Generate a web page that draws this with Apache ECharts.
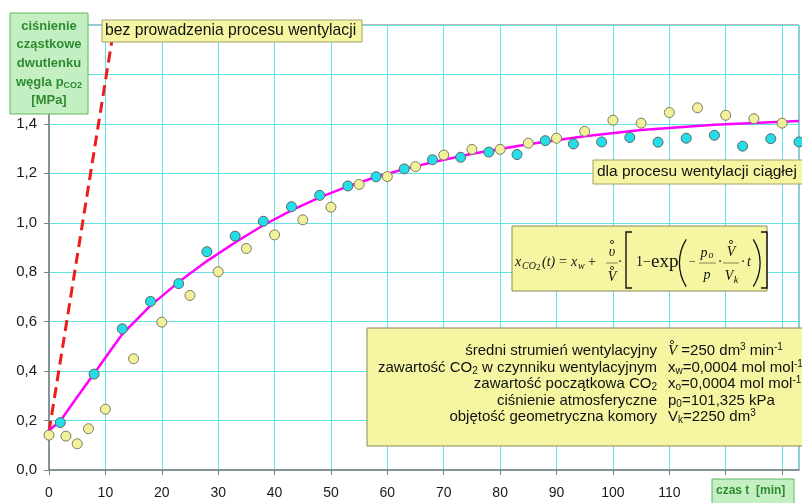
<!DOCTYPE html>
<html>
<head>
<meta charset="utf-8">
<script src="https://cdn.jsdelivr.net/npm/echarts@6/dist/echarts.min.js"></script>
<style>
    html, body { margin: 0; padding: 0; background: #fff; }
    #wykres { width: 802px; height: 503px; }
</style>
</head>
<body>
<div id="wykres"></div>
<script>
(function () {
    "use strict";

    // punkty turkusowe (pomiar przy wentylacji ciaglej)
    var czasCiagly = [2, 8, 13, 18, 23, 28, 33, 38, 43, 48, 53, 58, 63, 68, 73, 78, 83, 88, 93, 98, 103, 108, 113, 118, 123, 128, 133];
    var pCiagly = [0.192, 0.388, 0.571, 0.682, 0.754, 0.883, 0.946, 1.006, 1.065, 1.111, 1.149, 1.186, 1.218, 1.255, 1.265,
        1.286, 1.276, 1.332, 1.319, 1.327, 1.345, 1.326, 1.342, 1.354, 1.310, 1.340, 1.327];

    // punkty zolte
    var czasZolte = [0, 3, 5, 7, 10, 15, 20, 25, 30, 35, 40, 45, 50, 55, 60, 65, 70, 75, 80, 85, 90, 95, 100, 105, 110, 115, 120, 125, 130];
    var pZolte = [0.141, 0.137, 0.106, 0.167, 0.246, 0.450, 0.598, 0.706, 0.802, 0.896, 0.951, 1.012, 1.063, 1.155, 1.187,
        1.227, 1.274, 1.297, 1.297, 1.322, 1.342, 1.370, 1.415, 1.403, 1.446, 1.465, 1.435, 1.421, 1.403];

    // krzywa modelu
    var czasModel = [0, 2, 5, 8, 13, 18, 23, 28, 33, 38, 43, 48, 53, 58, 63, 68, 75, 85, 95, 105, 118, 133];
    var pModel = [0.16, 0.198, 0.295, 0.39, 0.55, 0.665, 0.76, 0.845, 0.92, 0.99, 1.05, 1.103, 1.147, 1.185, 1.217,
        1.245, 1.279, 1.318, 1.35, 1.375, 1.397, 1.412];

    // linia bez wentylacji
    var czasBez = [0, 11.6];
    var pBez = [0.155, 1.8];

    function pary(xs, ys) {
        return xs.map(function (x, i) { return [x, ys[i]]; });
    }

    var sans = '"Liberation Sans", Arial, sans-serif';
    var serif = '"Liberation Serif", "DejaVu Serif", serif';
    var siatka = '#62e2e2';
    var zolty = '#f6f6a2';
    var zielony = '#c3efc3';

    function tekst(x, y, t, font, extra) {
        var st = { x: x, y: y, text: t, font: font, fill: '#111', verticalAlign: 'middle' };
        if (extra) { for (var k in extra) st[k] = extra[k]; }
        return { type: 'text', z: 120, style: st };
    }
    function kolko(x, y) {
        return { type: 'circle', z: 120, shape: { cx: x, cy: y, r: 1.6 }, style: { fill: 'none', stroke: '#111', lineWidth: 0.8 } };
    }
    function linia(pts, w) {
        return { type: 'polyline', z: 120, shape: { points: pts }, style: { stroke: '#111', lineWidth: w || 1, fill: null } };
    }
    function luk(cx, cy, r, a0, a1) {
        return { type: 'arc', z: 120, shape: { cx: cx, cy: cy, r: r, startAngle: a0, endAngle: a1 }, style: { stroke: '#111', lineWidth: 1.3, fill: null } };
    }

    var it = 'italic 14px ' + serif;
    var itS = 'italic 10px ' + serif;
    var yM = 262;

    var wzor = [
        { type: 'rect', z: 110, shape: { x: 512, y: 226, width: 255, height: 65 }, style: { fill: zolty, stroke: '#8a8a5a', lineWidth: 1 } },
        tekst(515, yM, 'x', it),
        tekst(522, yM + 4, 'CO', itS),
        tekst(536, yM + 6, '2', '9px ' + serif),
        tekst(542, yM, '(t)', it),
        tekst(559, yM, '=', '14px ' + serif),
        tekst(571, yM, 'x', it),
        tekst(578, yM + 4, 'w', itS),
        tekst(588, yM, '+', '14px ' + serif),
        kolko(612, yM - 20),
        tekst(612, yM - 10, 'υ', it, { align: 'center' }),
        linia([[606, yM + 1], [618, yM + 1]], 0.5),
        kolko(612, yM + 6),
        tekst(612, yM + 15, 'V', it, { align: 'center' }),
        tekst(620, yM, '·', '14px ' + serif, { align: 'center' }),
        linia([[632, 232], [626, 232], [626, 288], [632, 288]], 1.4),
        tekst(636, yM, '1−', '14px ' + serif),
        tekst(651, yM, 'exp', '19px ' + serif),
        luk(724, yM + 1, 44.6, Math.PI - 0.56, Math.PI + 0.56),
        tekst(689, yM, '−', '12px ' + serif),
        tekst(704, yM - 9, 'p', it, { align: 'center' }),
        tekst(711, yM - 7, 'o', itS, { align: 'center' }),
        linia([[699, yM + 1], [716, yM + 1]], 0.5),
        tekst(707, yM + 13, 'p', it, { align: 'center' }),
        tekst(720, yM, '·', '14px ' + serif, { align: 'center' }),
        kolko(731, yM - 20),
        tekst(731, yM - 10, 'V', it, { align: 'center' }),
        linia([[723, yM + 1], [739, yM + 1]], 0.5),
        tekst(729, yM + 14, 'V', it, { align: 'center' }),
        tekst(736, yM + 18, 'k', itS, { align: 'center' }),
        tekst(743, yM, '·', '14px ' + serif, { align: 'center' }),
        tekst(747, yM, 't', it),
        luk(715.5, yM + 1, 44.6, -0.56, 0.56),
        linia([[761, 232], [767, 232], [767, 288], [761, 288]], 1.4)
    ];

    var bogaty = {
        s: { fontSize: 10, fontFamily: sans, verticalAlign: 'bottom', lineHeight: 17, fill: '#111' },
        p: { fontSize: 10, fontFamily: sans, verticalAlign: 'top', lineHeight: 17, fill: '#111' },
        v: { fontSize: 15, fontFamily: serif, fontStyle: 'italic', lineHeight: 17, fill: '#111' }
    };
    var fInfo = '15px ' + sans;
    var wiersze = [351, 367.5, 384, 400.5, 417];
    var etykiety = [
        'średni strumień wentylacyjny',
        'zawartość CO{s|2} w czynniku wentylacyjnym',
        'zawartość początkowa CO{s|2}',
        'ciśnienie atmosferyczne',
        'objętość geometryczna komory'
    ];
    var wartosci = [
        '{v|V} =250 dm{p|3} min{p|-1}',
        'x{s|w}=0,0004 mol mol{p|-1}',
        'x{s|o}=0,0004 mol mol{p|-1}',
        'p{s|0}=101,325 kPa',
        'V{s|k}=2250 dm{p|3}'
    ];
    var info = [
        { type: 'rect', z: 110, shape: { x: 367, y: 328, width: 450, height: 118 }, style: { fill: zolty, stroke: '#8a8a5a', lineWidth: 1 } },
        kolko(672, 342)
    ];
    etykiety.forEach(function (t, i) {
        info.push(tekst(657, wiersze[i], t, fInfo, { align: 'right', rich: bogaty }));
        info.push(tekst(668, wiersze[i], wartosci[i], fInfo, { rich: bogaty }));
    });

    var zielonyTxt = '#2e8b2e';
    var fZ = 'bold 13px ' + sans;
    var opisy = [
        { type: 'rect', z: 110, shape: { x: 10, y: 13, width: 78, height: 101 }, style: { fill: zielony, stroke: '#5cb85c', lineWidth: 1 } },
        tekst(49, 26, 'ciśnienie', fZ, { align: 'center', fill: zielonyTxt }),
        tekst(49, 44.5, 'cząstkowe', fZ, { align: 'center', fill: zielonyTxt }),
        tekst(49, 63, 'dwutlenku', fZ, { align: 'center', fill: zielonyTxt }),
        tekst(49, 82, 'węgla p{s|CO2}', fZ, { align: 'center', fill: zielonyTxt,
            rich: { s: { fontSize: 9, fontWeight: 'bold', fontFamily: sans, verticalAlign: 'bottom', lineHeight: 16, fill: zielonyTxt } } }),
        tekst(49, 100.5, '[MPa]', fZ, { align: 'center', fill: zielonyTxt }),

        { type: 'rect', z: 110, shape: { x: 102, y: 20, width: 260, height: 22 }, style: { fill: zolty, stroke: '#a0a070', lineWidth: 1 } },
        tekst(105, 31, 'bez prowadzenia procesu wentylacji', '15.7px ' + sans),

        { type: 'rect', z: 110, shape: { x: 593, y: 160, width: 215, height: 24 }, style: { fill: zolty, stroke: '#a0a070', lineWidth: 1 } },
        tekst(597, 172, 'dla procesu wentylacji ciągłej', '15.5px ' + sans),

        { type: 'rect', z: 110, shape: { x: 712, y: 479, width: 82, height: 30 }, style: { fill: zielony, stroke: '#5cb85c', lineWidth: 1 } },
        tekst(716, 491, 'czas t  [min]', 'bold 12px ' + sans, { fill: zielonyTxt })
    ];

    var wykres = echarts.init(document.getElementById('wykres'), null, { renderer: 'canvas' });
    wykres.setOption({
        backgroundColor: '#fff',
        animation: false,
        grid: {
            left: 49, right: 3, top: 25, bottom: 33,
            show: true, borderColor: '#777', borderWidth: 1, backgroundColor: '#fff'
        },
        xAxis: {
            type: 'value', min: 0, max: 133, interval: 10,
            axisLine: { lineStyle: { color: '#808080', width: 1.5 } },
            axisTick: { show: true, length: 5, lineStyle: { color: '#808080' } },
            axisLabel: { color: '#1a1a1a', fontSize: 14, fontFamily: sans, margin: 16, showMaxLabel: false },
            splitLine: { show: true, lineStyle: { color: siatka, width: 1 } }
        },
        yAxis: {
            type: 'value', min: 0, max: 1.8, interval: 0.2,
            axisLine: { show: true, lineStyle: { color: '#808080', width: 1.5 } },
            axisTick: { show: true, length: 5, lineStyle: { color: '#808080' } },
            axisLabel: {
                color: '#1a1a1a', fontSize: 15, fontFamily: sans, margin: 12,
                formatter: function (v) { return v.toFixed(1).replace('.', ','); }
            },
            splitLine: { show: true, lineStyle: { color: siatka, width: 1 } }
        },
        series: [
            {
                name: 'bez wentylacji', type: 'line', data: pary(czasBez, pBez),
                showSymbol: false, lineStyle: { color: '#ee1c1c', width: 3, type: [11, 6] }, z: 3
            },
            {
                name: 'model', type: 'line', data: pary(czasModel, pModel), smooth: false,
                showSymbol: false, lineStyle: { color: '#ff00ff', width: 2.5, join: 'round' }, z: 4
            },
            {
                name: 'wentylacja ciagla', type: 'scatter', data: pary(czasCiagly, pCiagly),
                symbol: 'circle', symbolSize: 10,
                itemStyle: { color: '#24dde6', borderColor: '#58696a', borderWidth: 1, opacity: 1 }, z: 5
            },
            {
                name: 'zolte', type: 'scatter', data: pary(czasZolte, pZolte),
                symbol: 'circle', symbolSize: 10,
                itemStyle: { color: '#f2f09a', borderColor: '#7d7d62', borderWidth: 1, opacity: 1 }, z: 5
            }
        ],
        graphic: { elements: wzor.concat(info, opisy) }
    });
}());
</script>
</body>
</html>
